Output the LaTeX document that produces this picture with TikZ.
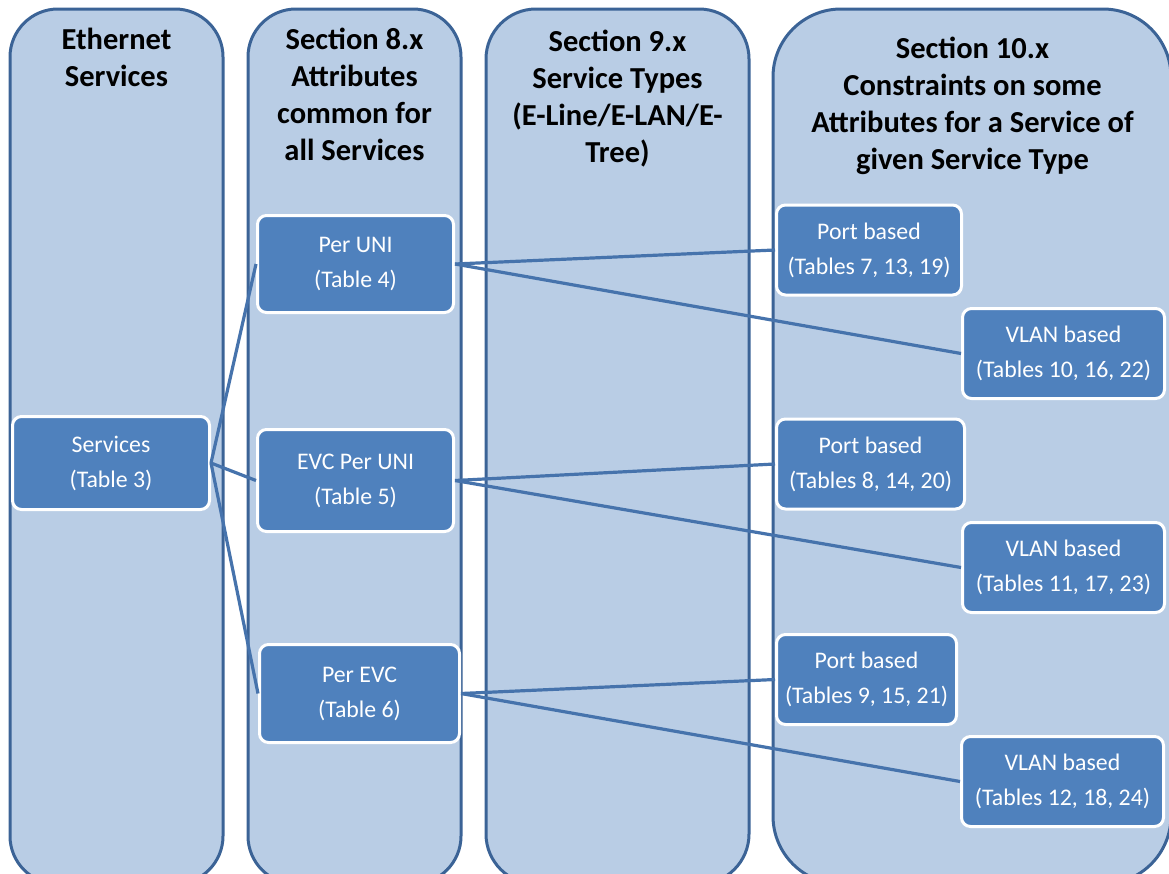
\documentclass[tikz,border=0pt]{standalone}
\usepackage{fontspec}
\setmainfont{Carlito}
\definecolor{colFill}{HTML}{B9CDE5}
\definecolor{colLine}{HTML}{3B6396}
\definecolor{boxFill}{HTML}{4F81BD}
\definecolor{wire}{HTML}{4673AC}

\begin{document}
\begin{tikzpicture}
[x=1pt,y=-1pt,%
  columnDecorate/.style={draw=colLine,fill=colFill,line width=3pt},%
  headDecorate/.style={anchor=north,align=center,inner sep=0pt,font=\fontsize{30.5}{37}\selectfont\bfseries},%
  boxDecorate/.style={shape=rectangle,rounded corners=9pt,draw=white,line width=3pt,
    fill=boxFill,text=white,align=center,inner sep=0pt,font=\fontsize{23.8}{35}\selectfont},%
  lineDecorate/.style={-,draw=wire,line width=3.2pt}]
\useasboundingbox (0,0) rectangle (1169,873);
\clip (0,0) rectangle (1169,873);
%% columns
\foreach \xa/\xb/\rad in {10/223/48, 248/461/48, 486/749/50, 773/1171/68}
{
  \draw[columnDecorate,rounded corners=\rad pt] (\xa,9) rectangle (\xb,884);
}
%% column headings
\node (ethHead) at (116.5,28) [headDecorate] {Ethernet\\Services};
\node (attrHead) at (354.5,28) [headDecorate] {Section 8.x\\Attributes\\common for\\all Services};
\node (typeHead) at (617.5,30) [headDecorate] {Section 9.x\\Service Types\\(E-Line/E-LAN/E-\\Tree)};
\node (consHead) at (972.5,37) [headDecorate] {Section 10.x\\Constraints on some\\Attributes for a Service of\\given Service Type};
%% nodes or boxes
\node (srv) at (111,463) [boxDecorate,minimum width=197,minimum height=93] {Services\\(Table 3)};
\foreach \nodename/\x/\y/\w/\h/\first/\second in {
  uni/355.5/264/196/97/Per UNI/Table 4, evcuni/355.5/480.5/196/102/EVC Per UNI/Table 5,
  evc/359.5/693.5/200/98/Per EVC/Table 6}
{
  \node (\nodename) at (\x,\y) [boxDecorate,minimum width=\w,minimum height=\h] {\first\\(\second)};
}
\foreach \nodename/\x/\y/\w/\first/\second in {
  port1/869/250/185/Port based/{Tables 7, 13, 19}, vlan1/1063.5/353.5/202/VLAN based/{Tables 10, 16, 22},
  port2/870.5/464/188/Port based/{Tables 8, 14, 20}, vlan2/1063.5/567.5/202/VLAN based/{Tables 11, 17, 23},
  port3/866.5/679.5/180/Port based/{Tables 9, 15, 21}, vlan3/1062.5/781.5/202/VLAN based/{Tables 12, 18, 24}}
{
  \node (\nodename) at (\x,\y) [boxDecorate,minimum width=\w,minimum height=90] {\first\\(\second)};
}
%% edges or lines
\path
\foreach \startnode/\endnode in {
  srv/uni, srv/evcuni, srv/evc, uni/port1, uni/vlan1,
  evcuni/port2, evcuni/vlan2, evc/port3, evc/vlan3}
{
  (\startnode.east) edge[lineDecorate] (\endnode.west)
};
\end{tikzpicture}
\end{document}
